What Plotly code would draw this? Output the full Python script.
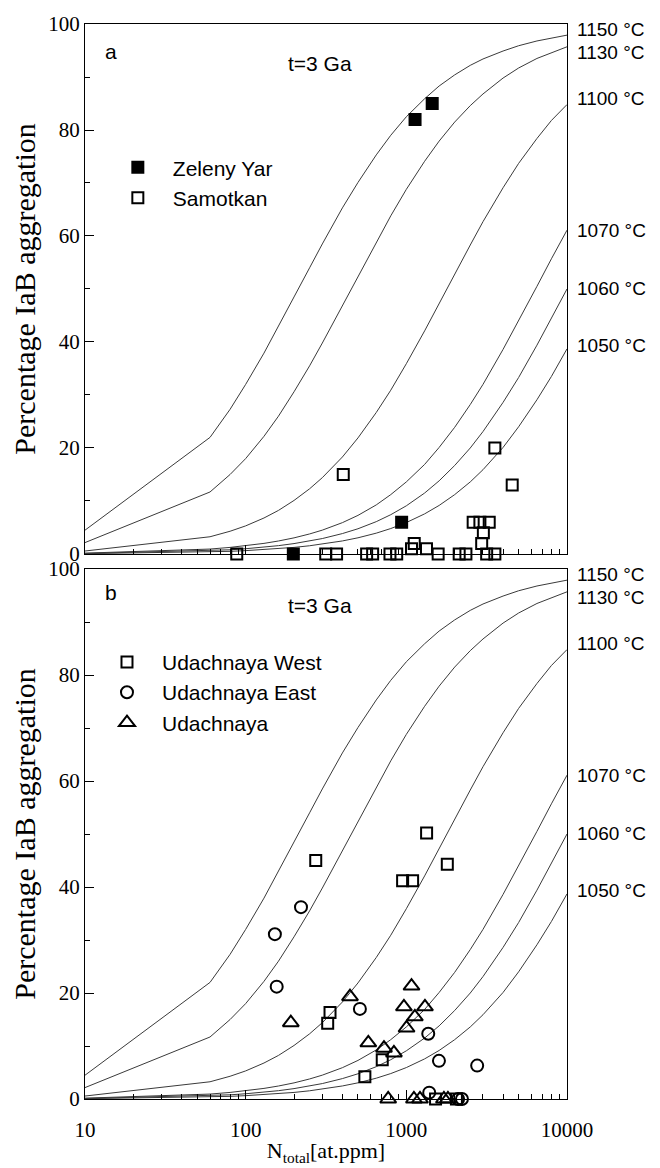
import plotly.graph_objects as go

# ---------------- data ----------------
x_model = [10, 60, 80, 100, 130, 160, 200, 250, 300, 400, 500, 650, 800, 1000,
           1300, 1600, 2000, 2500, 3000, 4000, 5000, 6500, 8000, 10000]
temps = ["1150 °C", "1130 °C", "1100 °C", "1070 °C", "1060 °C", "1050 °C"]
y_1150 = [4.49, 22.0, 27.3, 32.0, 37.9, 42.9, 48.5, 54.0, 58.5, 65.3, 70.1, 75.3, 79.0, 82.5,
          85.9, 88.3, 90.4, 92.2, 93.4, 94.9, 95.9, 96.8, 97.4, 97.9]
y_1130 = [2.15, 11.7, 15.0, 18.0, 22.2, 26.0, 30.6, 35.5, 39.8, 46.8, 52.4, 58.8, 63.8, 68.8,
          74.1, 77.9, 81.5, 84.6, 86.8, 89.8, 91.7, 93.5, 94.6, 95.7]
y_1100 = [0.56, 3.25, 4.29, 5.30, 6.79, 8.22, 10.1, 12.3, 14.4, 18.3, 21.9, 26.7, 30.9, 35.9,
          42.1, 47.3, 52.8, 58.3, 62.7, 69.1, 73.7, 78.4, 81.8, 84.8]
y_1070 = [0.16, 0.93, 1.24, 1.55, 2.00, 2.45, 3.04, 3.78, 4.50, 5.91, 7.28, 9.26, 11.2, 13.6,
          16.9, 20.1, 23.9, 28.2, 32.0, 38.6, 44.0, 50.5, 55.7, 61.1]
y_1060 = [0.10, 0.60, 0.79, 0.99, 1.28, 1.57, 1.96, 2.44, 2.91, 3.85, 4.76, 6.10, 7.41, 9.09,
          11.5, 13.8, 16.7, 20.0, 23.1, 28.6, 33.3, 39.4, 44.4, 50.0]
y_1050 = [0.06, 0.38, 0.50, 0.63, 0.81, 1.00, 1.24, 1.55, 1.85, 2.46, 3.05, 3.93, 4.80, 5.93,
          7.57, 9.16, 11.2, 13.6, 15.9, 20.1, 24.0, 29.1, 33.5, 38.7]
curves = [y_1150, y_1130, y_1100, y_1070, y_1060, y_1050]
label_y = [99.0, 94.6, 86.0, 61.0, 50.1, 39.3]

# panel a
zeleny_x = [198, 935, 1133, 1449]
zeleny_y = [0, 6, 82, 85]
samotkan_x = [88, 315, 368, 405, 566, 617, 791, 871, 1077, 1120, 1335, 1578, 2133, 2349,
              2606, 2870, 3280, 3016, 2944, 3162, 3557, 3557, 4560]
samotkan_y = [0, 0, 0, 15, 0, 0, 0, 0, 1, 2, 1, 0, 0, 0,
              6, 6, 6, 4, 2, 0, 0, 20, 13]

# panel b
west_x = [273, 324, 335, 552, 708, 948, 1094, 1337, 1799, 1520, 2050]
west_y = [45, 14.3, 16.3, 4.2, 7.4, 41.2, 41.2, 50.2, 44.3, 0, 0]
east_x = [152, 156, 221, 514, 1369, 1596, 2760, 1388, 2100, 2219]
east_y = [31.1, 21.2, 36.2, 17.0, 12.3, 7.2, 6.3, 1.2, 0, 0]
uda_x = [191, 446, 580, 726, 837, 1003, 966, 1077, 1130, 1306, 771, 1115, 1216, 1714, 1815]
uda_y = [14.4, 19.3, 10.6, 9.6, 8.7, 13.4, 17.4, 21.3, 15.5, 17.4, 0, 0, 0, 0, 0]

x_ticks = [10, 100, 1000, 10000]
x_minor = [20, 30, 40, 50, 60, 70, 80, 90, 200, 300, 400, 500, 600, 700, 800, 900,
           2000, 3000, 4000, 5000, 6000, 7000, 8000, 9000]
y_ticks = [0, 20, 40, 60, 80, 100]
y_minor = [10, 30, 50, 70, 90]

# ---------------- figure ----------------
SERIF = "Liberation Serif, Times New Roman, serif"
SANS = "Liberation Sans, Arial, sans-serif"
fig = go.Figure()

for panel, (xa, ya) in enumerate([("x", "y"), ("x2", "y2")]):
    for yv in curves:
        fig.add_trace(go.Scatter(x=x_model, y=yv, mode="lines", xaxis=xa, yaxis=ya,
                                 line=dict(color="#3a3a3a", width=1), showlegend=False,
                                 hoverinfo="skip"))

mk = dict(size=11, line=dict(width=2, color="black"))
fig.add_trace(go.Scatter(x=zeleny_x, y=zeleny_y, mode="markers", name="Zeleny Yar",
                         marker=dict(symbol="square", color="black", **mk),
                         cliponaxis=False, legend="legend"))
fig.add_trace(go.Scatter(x=samotkan_x, y=samotkan_y, mode="markers", name="Samotkan",
                         marker=dict(symbol="square-open", color="black", **mk),
                         cliponaxis=False, legend="legend"))
fig.add_trace(go.Scatter(x=west_x, y=west_y, mode="markers", name="Udachnaya West",
                         xaxis="x2", yaxis="y2",
                         marker=dict(symbol="square-open", color="black", **mk),
                         cliponaxis=False, legend="legend2"))
fig.add_trace(go.Scatter(x=east_x, y=east_y, mode="markers", name="Udachnaya East",
                         xaxis="x2", yaxis="y2",
                         marker=dict(symbol="circle-open", color="black", size=12,
                                     line=dict(width=2, color="black")),
                         cliponaxis=False, legend="legend2"))
fig.add_trace(go.Scatter(x=uda_x, y=uda_y, mode="markers", name="Udachnaya",
                         xaxis="x2", yaxis="y2",
                         marker=dict(symbol="triangle-up-open", color="black", size=14,
                                     line=dict(width=2, color="black")),
                         cliponaxis=False, legend="legend2"))

xcommon = dict(type="log", range=[1, 4], showline=True, linecolor="black", linewidth=1,
               mirror=True, ticks="inside", ticklen=9, tickcolor="black",
               tickvals=x_ticks, ticktext=[str(v) for v in x_ticks],
               minor=dict(tickvals=x_minor, ticks="inside", ticklen=5, tickcolor="black"),
               showgrid=False, zeroline=False, automargin=False,
               tickfont=dict(family=SERIF, size=21, color="black"))
ycommon = dict(range=[0, 100], showline=True, linecolor="black", linewidth=1,
               mirror=True, ticks="inside", ticklen=9, tickcolor="black",
               tickvals=y_ticks, minor=dict(tickvals=y_minor, ticks="inside", ticklen=5,
                                           tickcolor="black"),
               showgrid=False, zeroline=False, automargin=False,
               tickfont=dict(family=SERIF, size=21, color="black"),
               title=dict(text="Percentage IaB aggregation",
                          font=dict(family=SERIF, size=30, color="black"), standoff=4))

top_dom = [0.507, 1.0]
bot_dom = [0.0, 0.493]
fig.update_layout(
    width=660, height=1168,
    margin=dict(l=77, r=101, t=16, b=77, autoexpand=False),
    paper_bgcolor="white", plot_bgcolor="white",
    xaxis=dict(domain=[0, 1], anchor="y", showticklabels=False, **xcommon),
    yaxis=dict(domain=top_dom, anchor="x", **ycommon),
    xaxis2=dict(domain=[0, 1], anchor="y2", ticklabelstandoff=12,
                title=dict(text="N<sub>total</sub>[at.ppm]",
                           font=dict(family=SERIF, size=22, color="black"), standoff=1),
                **xcommon),
    yaxis2=dict(domain=bot_dom, anchor="x2", **ycommon),
    legend=dict(x=0.037, y=0.8854, xanchor="left", yanchor="top", itemwidth=60,
                font=dict(family=SANS, size=21, color="black"), bgcolor="rgba(0,0,0,0)"),
    legend2=dict(x=0.0145, y=0.4253, xanchor="left", yanchor="top", itemwidth=60,
                 font=dict(family=SANS, size=21, color="black"), bgcolor="rgba(0,0,0,0)"),
    showlegend=True,
)

ann = []
for lab, ly in zip(temps, label_y):
    for yr in ("y", "y2"):
        ann.append(dict(x=1.016, xref="paper", y=ly, yref=yr, text=lab, showarrow=False,
                        xanchor="left", yanchor="middle",
                        font=dict(family=SANS, size=19, color="black")))
for txt, yy in (("a", 0.974), ("b", 0.4716)):
    ann.append(dict(x=0.037, xref="paper", y=yy, yref="paper", text=txt, showarrow=False,
                    xanchor="left", yanchor="middle",
                    font=dict(family=SANS, size=21, color="black")))
for yy in (0.9637, 0.4595):
    ann.append(dict(x=0.4876, xref="paper", y=yy, yref="paper", text="t=3 Ga",
                    showarrow=False, xanchor="center", yanchor="middle",
                    font=dict(family=SANS, size=21, color="black")))
fig.update_layout(annotations=ann)

fig.write_html("out.html")
